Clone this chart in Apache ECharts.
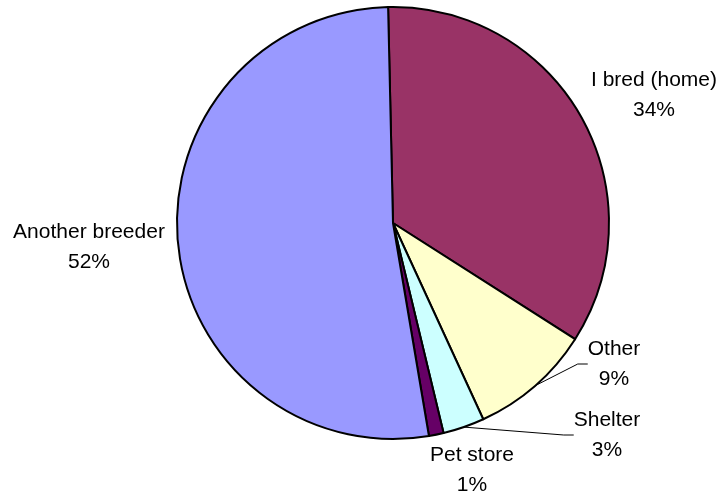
<!DOCTYPE html>
<html>
<head>
<meta charset="utf-8">
<script src="https://cdn.jsdelivr.net/npm/echarts@6/dist/echarts.min.js"></script>
<style>html,body{margin:0;padding:0;background:#fff;}#c{width:724px;height:499px;}</style>
</head>
<body>
<div id="c"></div>
<script>
var categories = ['I bred (home)', 'Other', 'Shelter', 'Pet store', 'Another breeder'];
var values = [34.4, 9.1, 3.1, 1.1, 52.3];
var colors = ['#993366', '#FFFFCC', '#CCFFFF', '#660066', '#9999FF'];
var showLine = [false, true, true, false, false];
// label block centres (layout only)
var labelPos = [[654, 95], [614, 364], [607, 435], [472, 470], [89, 247]];

var chart = echarts.init(document.getElementById('c'));
chart.setOption({
  animation: false,
  backgroundColor: '#ffffff',
  series: [{
    type: 'pie',
    center: [393, 223],
    radius: 216,
    startAngle: 91.3,
    clockwise: true,
    avoidLabelOverlap: false,
    itemStyle: { borderColor: '#000', borderWidth: 2 },
    label: {
      show: true,
      position: 'outside',
      formatter: function (p) { return p.name + '\n' + Math.round(p.percent) + '%'; },
      fontFamily: 'Liberation Sans, Arial, sans-serif',
      fontSize: 21,
      lineHeight: 30,
      color: '#000',
      align: 'center'
    },
    labelLine: { show: true, length: 10, length2: 10, smooth: false, lineStyle: { color: '#000', width: 1 } },
    labelLayout: function (params) {
      var p = labelPos[params.dataIndex];
      return { x: p[0], y: p[1], align: 'center', verticalAlign: 'middle' };
    },
    emphasis: { disabled: true },
    data: categories.map(function (c, i) {
      return {
        name: c,
        value: values[i],
        itemStyle: { color: colors[i] },
        labelLine: { show: showLine[i] }
      };
    })
  }]
});
</script>
</body>
</html>
